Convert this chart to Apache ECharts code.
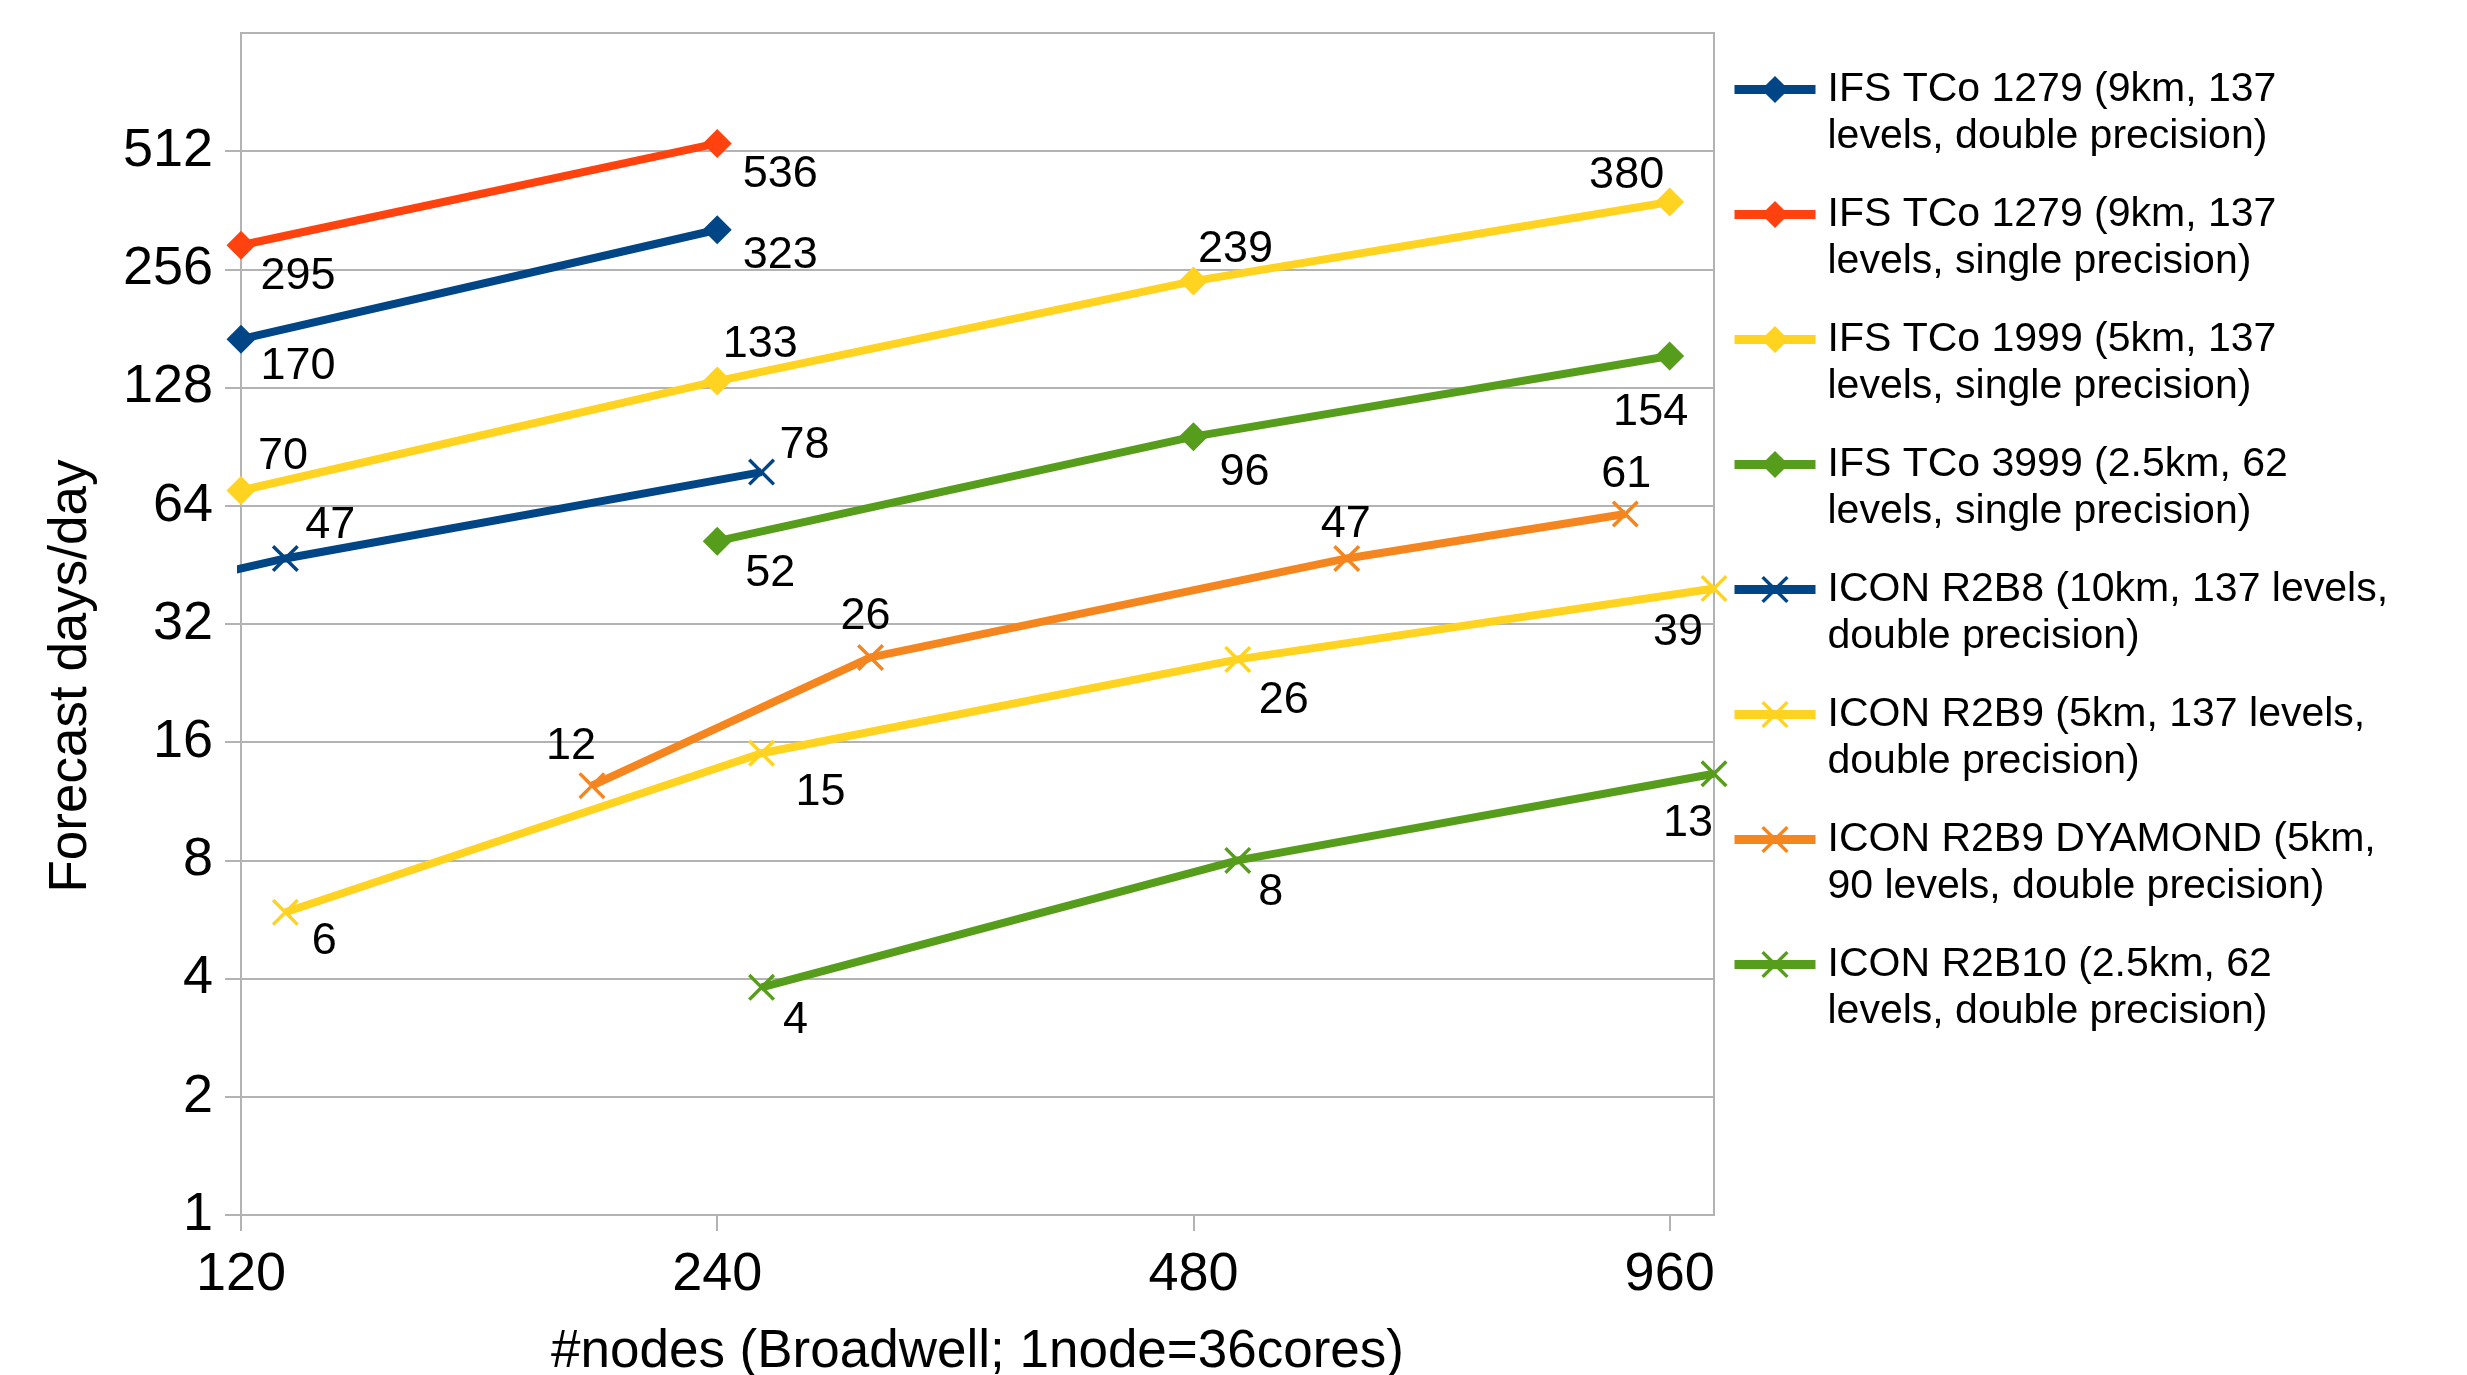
<!DOCTYPE html>
<html>
<head>
<meta charset="utf-8">
<script src="https://cdn.jsdelivr.net/npm/echarts@6/dist/echarts.min.js"></script>
<style>
html,body{margin:0;padding:0;background:#fff;}
#chart{width:2467px;height:1375px;}
</style>
</head>
<body>
<div id="chart"></div>
<script>
// ---- data ----
const xTickLabels = [120, 240, 480, 960];
const yTickLabels = [1, 2, 4, 8, 16, 32, 64, 128, 256, 512];
const xMin = 120, xMax = 1024, yMin = 1, yMax = 1024;

const seriesNames = [
  'IFS TCo 1279 (9km, 137\nlevels, double precision)',
  'IFS TCo 1279 (9km, 137\nlevels, single precision)',
  'IFS TCo 1999 (5km, 137\nlevels, single precision)',
  'IFS TCo 3999 (2.5km, 62\nlevels, single precision)',
  'ICON R2B8 (10km, 137 levels,\ndouble precision)',
  'ICON R2B9 (5km, 137 levels,\ndouble precision)',
  'ICON R2B9 DYAMOND (5km,\n90 levels, double precision)',
  'ICON R2B10 (2.5km, 62\nlevels, double precision)'
];

const ifs1279dpNodes = [120, 240];
const ifs1279dpDays  = [170, 323];
const ifs1279spNodes = [120, 240];
const ifs1279spDays  = [295, 536];
const ifs1999spNodes = [120, 240, 480, 960];
const ifs1999spDays  = [70, 133, 239, 380];
const ifs3999spNodes = [240, 480, 960];
const ifs3999spDays  = [52, 96, 154];
const iconR2B8Nodes  = [64, 128, 256];
const iconR2B8Days   = [25, 47, 78];
const iconR2B9Nodes  = [128, 256, 512, 1024];
const iconR2B9Days   = [5.9, 15, 26, 39.4];
const iconDyamondNodes = [200, 300, 600, 900];
const iconDyamondDays  = [12.4, 26.3, 47, 61];
const iconR2B10Nodes = [256, 512, 1024];
const iconR2B10Days  = [3.8, 8, 13.3];

// ---- styling (not data) ----
const colors = ['#004586', '#ff420e', '#ffd320', '#579d1c', '#004586', '#ffd320', '#f5851f', '#579d1c'];
const markers = ['diamond', 'diamond', 'diamond', 'diamond', 'x', 'x', 'x', 'x'];
const labelOffsets = [
  [[57, 27], [63, 26]],
  [[57, 31], [63, 31]],
  [[42, -34], [43, -36], [42, -32], [-43, -26]],
  [[53, 32], [51, 36], [-19, 57]],
  [null, [45, -33], [43, -26]],
  [[39, 29], [59, 39], [46, 41], [-36, 44]],
  [[-21, -39], [-5, -41], [-1, -34], [1, -39]],
  [[34, 33], [33, 32], [-26, 50]]
];
const XPATH = 'path://M0,0.9 L0.9,0 L5,4.1 L9.1,0 L10,0.9 L5.9,5 L10,9.1 L9.1,10 L5,5.9 L0.9,10 L0,9.1 L4.1,5 Z';
const FONT = 'Liberation Sans';

const nodesList = [ifs1279dpNodes, ifs1279spNodes, ifs1999spNodes, ifs3999spNodes,
                   iconR2B8Nodes, iconR2B9Nodes, iconDyamondNodes, iconR2B10Nodes];
const daysList  = [ifs1279dpDays, ifs1279spDays, ifs1999spDays, ifs3999spDays,
                   iconR2B8Days, iconR2B9Days, iconDyamondDays, iconR2B10Days];

const lx = v => Math.log2(v / xMin);   // x in doublings from 120 nodes
const ly = v => Math.log2(v);          // y in doublings from 1

const series = seriesNames.map((name, i) => {
  const data = nodesList[i].map((n, j) => {
    const off = labelOffsets[i][j];
    const inside = n >= xMin && n <= xMax;
    return {
      value: [lx(n), ly(daysList[i][j]), daysList[i][j]],
      symbol: inside ? (markers[i] === 'x' ? XPATH : 'diamond') : 'none',
      label: off ? { show: true, offset: off } : { show: false }
    };
  });
  return {
    name: name,
    type: 'line',
    data: data,
    encode: { x: 0, y: 1 },
    color: colors[i],
    symbol: markers[i] === 'x' ? XPATH : 'diamond',
    symbolSize: markers[i] === 'x' ? 27 : 29,
    showAllSymbol: true,
    clip: true,
    lineStyle: { width: 8, color: colors[i] },
    itemStyle: { color: colors[i] },
    label: {
      show: true,
      position: 'inside',
      fontFamily: FONT,
      fontSize: 45,
      color: '#000',
      formatter: p => String(Math.round(p.value[2]))
    },
    emphasis: { disabled: true },
    z: 3
  };
});

const chart = echarts.init(document.getElementById('chart'), null, { renderer: 'canvas' });
chart.setOption({
  animation: false,
  backgroundColor: '#ffffff',
  textStyle: { fontFamily: FONT },
  grid: {
    left: 241, right: 753, top: 33, bottom: 160,
    containLabel: false,
    outerBoundsMode: 'none',
    show: true, borderColor: '#b3b3b3', borderWidth: 2, backgroundColor: 'transparent'
  },
  legend: {
    orient: 'vertical',
    left: 1730, top: 19,
    padding: 0,
    itemGap: -16,
    itemWidth: 81, itemHeight: 34,
    data: seriesNames,
    formatter: n => '\n' + n,
    lineStyle: { width: 9 },
    textStyle: { fontFamily: FONT, fontSize: 41, lineHeight: 47, color: '#000', padding: [0, 0, 0, 7] }
  },
  xAxis: {
    type: 'value',
    min: 0, max: lx(xMax), interval: 1,
    name: '#nodes (Broadwell; 1node=36cores)',
    nameLocation: 'middle', nameGap: 111,
    nameTextStyle: { fontFamily: FONT, fontSize: 53, color: '#000' },
    axisLine: { show: true, lineStyle: { color: '#b3b3b3', width: 2 } },
    axisTick: { show: true, length: 16, lineStyle: { color: '#b3b3b3', width: 2 },
                customValues: xTickLabels.map(lx) },
    axisLabel: { fontFamily: FONT, fontSize: 54, color: '#000', margin: 33,
                 customValues: xTickLabels.map(lx),
                 formatter: v => String(Math.round(xMin * Math.pow(2, v))) },
    splitLine: { show: false }
  },
  yAxis: {
    type: 'value',
    min: ly(yMin), max: ly(yMax), interval: 1,
    name: 'Forecast days/day',
    nameLocation: 'middle', nameGap: 143,
    nameTextStyle: { fontFamily: FONT, fontSize: 53, color: '#000', padding: [0, 104, 0, 0] },
    axisLine: { show: true, lineStyle: { color: '#b3b3b3', width: 2 } },
    axisTick: { show: true, length: 16, lineStyle: { color: '#b3b3b3', width: 2 },
                customValues: yTickLabels.map(ly) },
    axisLabel: { fontFamily: FONT, fontSize: 54, color: '#000', margin: 28,
                 customValues: yTickLabels.map(ly),
                 formatter: v => String(Math.round(Math.pow(2, v))) },
    splitLine: { show: true, lineStyle: { color: '#b3b3b3', width: 2 } }
  },
  series: series
});
</script>
</body>
</html>
